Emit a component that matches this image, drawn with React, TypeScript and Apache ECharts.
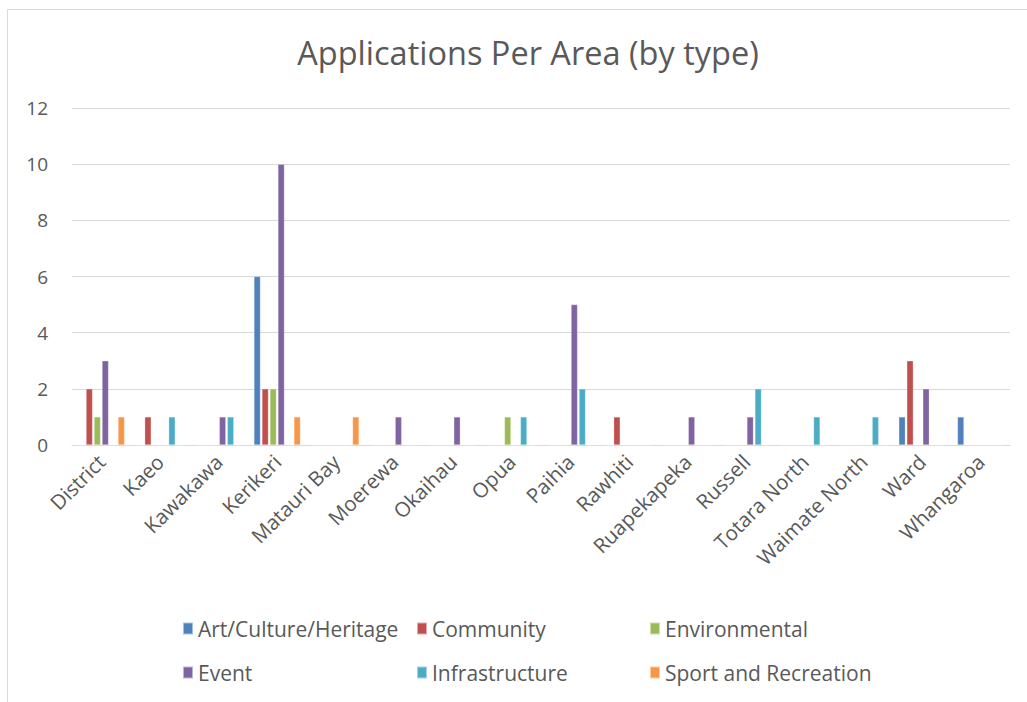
import React, { useEffect, useRef } from "react";
import * as echarts from "echarts";

const categories = [
  "District", "Kaeo", "Kawakawa", "Kerikeri", "Matauri Bay", "Moerewa", "Okaihau", "Opua",
  "Paihia", "Rawhiti", "Ruapekapeka", "Russell", "Totara North", "Waimate North", "Ward", "Whangaroa",
];

const seriesNames = ["Art/Culture/Heritage", "Community", "Environmental", "Event", "Infrastructure", "Sport and Recreation"];
const seriesColors = ["#4F81BD", "#C0504D", "#9BBB59", "#8064A2", "#4BACC6", "#F79646"];

const artCulture = [0, 0, 0, 6, 0, 0, 0, 0, 0, 0, 0, 0, 0, 0, 1, 1];
const community = [2, 1, 0, 2, 0, 0, 0, 0, 0, 1, 0, 0, 0, 0, 3, 0];
const environmental = [1, 0, 0, 2, 0, 0, 0, 1, 0, 0, 0, 0, 0, 0, 0, 0];
const eventVals = [3, 0, 1, 10, 0, 1, 1, 0, 5, 0, 1, 1, 0, 0, 2, 0];
const infrastructure = [0, 1, 1, 0, 0, 0, 0, 1, 2, 0, 0, 2, 1, 1, 0, 0];
const sport = [1, 0, 0, 1, 1, 0, 0, 0, 0, 0, 0, 0, 0, 0, 0, 0];

const allValues = [artCulture, community, environmental, eventVals, infrastructure, sport];

const legendPos = [
  { left: 177, top: 613 },
  { left: 411, top: 613 },
  { left: 644, top: 613 },
  { left: 177, top: 657 },
  { left: 411, top: 657 },
  { left: 644, top: 657 },
];

export default function App() {
  const ref = useRef<HTMLDivElement>(null);
  useEffect(() => {
    if (!ref.current) return;
    const chart = echarts.init(ref.current, undefined, { renderer: "svg" });
    const textColor = "#595959";
    const font = "Open Sans";
    chart.setOption({
      animation: false,
      backgroundColor: "#ffffff",
      title: {
        text: "Applications Per Area (by type)",
        left: 523,
        textAlign: "center",
        top: 31,
        textStyle: { color: textColor, fontSize: 32.5, fontWeight: "normal", fontFamily: font },
      },
      graphic: [
        {
          type: "rect",
          shape: { x: 7.5, y: 9.5, width: 1100, height: 800 },
          style: { fill: "none", stroke: "#d9d9d9", lineWidth: 1 },
          silent: true,
        },
      ],
      legend: seriesNames.map((name, i) => ({
        data: [name],
        left: legendPos[i].left,
        top: legendPos[i].top,
        itemWidth: 10,
        itemHeight: 12,
        itemGap: 6,
        icon: "rect",
        textStyle: { color: textColor, fontSize: 21, fontFamily: font, padding: [0, 0, 0, 0] },
        selectedMode: false,
      })),
      grid: { left: 72, right: 17, top: 108, bottom: 257, containLabel: false },
      xAxis: {
        type: "category",
        data: categories,
        axisLine: { lineStyle: { color: "#d9d9d9", width: 1 } },
        axisTick: { show: false },
        axisLabel: { rotate: 45, color: textColor, fontSize: 20.5, fontFamily: font, margin: 13, interval: 0 },
      },
      yAxis: {
        type: "value",
        min: 0,
        max: 12,
        interval: 2,
        axisLine: { show: false },
        axisTick: { show: false },
        axisLabel: { color: textColor, fontSize: 19, fontFamily: font, margin: 24 },
        splitLine: { lineStyle: { color: "#d9d9d9", width: 1 } },
      },
      series: seriesNames.map((name, i) => ({
        name,
        type: "bar",
        data: allValues[i],
        barWidth: 6.5,
        barGap: "23%",
        itemStyle: { color: seriesColors[i], borderColor: "rgba(255,255,255,0.5)", borderWidth: 0.5 },
      })),
    });
    return () => chart.dispose();
  }, []);
  return (
    <div
      ref={ref}
      style={{ position: "fixed", left: 0, top: 0, width: 1027, height: 702 }}
    />
  );
}
